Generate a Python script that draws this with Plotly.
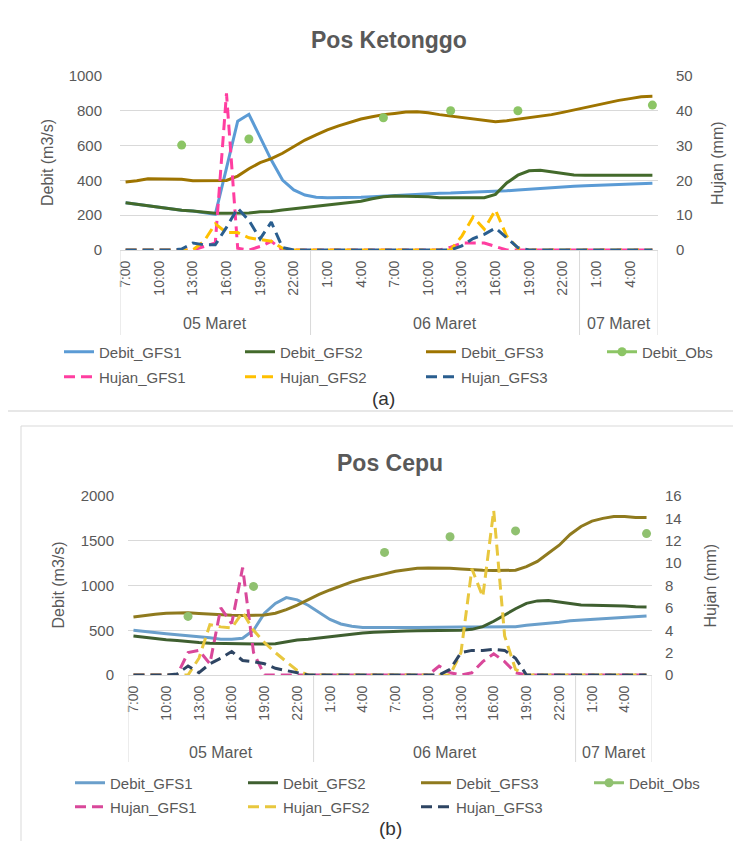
import plotly.graph_objects as go

# The page body has an 8px margin; figure is sized to fit the 741x841 window
OFF = 8
W, H = 741 - OFF, 841 - OFF


def px(x):
    return (x - OFF) / W


def py(y):
    return 1 - (y - OFF) / H


# ---------------- categories ----------------
HOURS = [
    "7:00", "8:00", "9:00", "10:00", "11:00", "12:00", "13:00", "14:00", "15:00",
    "16:00", "17:00", "18:00", "19:00", "20:00", "21:00", "22:00", "23:00",
    "0:00", "1:00", "2:00", "3:00", "4:00", "5:00", "6:00", "7:00", "8:00", "9:00",
    "10:00", "11:00", "12:00", "13:00", "14:00", "15:00", "16:00", "17:00", "18:00",
    "19:00", "20:00", "21:00", "22:00", "23:00",
    "0:00", "1:00", "2:00", "3:00", "4:00", "5:00", "6:00",
]
DAYS = ["05 Maret", "06 Maret", "07 Maret"]
DAY_SIZES = [17, 24, 7]
TICK_STEP = 3

# ---------------- Pos Ketonggo ----------------
KET_DEBIT_GFS1 = [272, 263, 255, 245, 234, 228, 224, 216, 205, 470, 740, 780, 651, 517, 402, 345, 316,
                  303, 301, 301, 301, 303, 306, 310, 312, 316, 320, 324, 326, 327, 329, 330, 333, 334, 340, 345, 350, 355, 358, 362, 366,
                  369, 372, 375, 377, 379, 382, 384]
KET_DEBIT_GFS2 = [272, 263, 255, 245, 234, 228, 224, 216, 211, 211, 211, 213, 220, 221, 230, 237, 242,
                  250, 255, 263, 270, 280, 295, 306, 310, 310, 310, 306, 301, 301, 301, 301, 301, 320, 385, 430, 455, 458, 450, 438, 431,
                  429, 429, 429, 430, 433, 429, 429]
KET_DEBIT_GFS3 = [391, 398, 410, 410, 410, 407, 398, 398, 398, 400, 425, 467, 502, 525, 556, 594, 632,
                  661, 690, 713, 732, 753, 766, 778, 785, 793, 795, 789, 778, 770, 762, 755, 747, 737, 743, 751, 759, 766, 778, 791, 805,
                  820, 835, 845, 860, 870, 881, 883]
KET_DEBIT_OBS = [None, None, None, None, None, 603, None, None, None, None, None, 638, None, None, None, None, None,
                 None, None, None, None, None, None, 760, None, None, None, None, None, 800, None, None, None, None, None, 800, None, None, None, None, None,
                 None, None, None, None, None, None, 833]
KET_HUJAN_GFS1 = [0, 0, 0, 0, 0, 0, 0, 1, 2, 45, 0.5, 0, 1, 2.5, 0, 0, 0,
                  0, 0, 0, 0, 0, 0, 0, 0, 0, 0, 0, 0, 0.8, 2, 2, 2, 1, 0, 0, 0, 0, 0, 0, 0,
                  0, 0, 0, 0, 0, 0, 0]
KET_HUJAN_GFS2 = [0, 0, 0, 0, 0, 0, 0, 2.5, 7.5, 5, 5, 3.5, 3, 2.5, 0.5, 0, 0,
                  0, 0, 0, 0, 0, 0, 0, 0, 0, 0, 0, 0, 0, 4, 9.5, 6, 11.5, 4, 0.5, 0, 0, 0, 0, 0,
                  0, 0, 0, 0, 0, 0, 0]
KET_HUJAN_GFS3 = [0, 0, 0, 0, 0, 0.3, 2, 1.5, 1.5, 6.5, 12, 8.5, 3.2, 8, 0.7, 0, 0,
                  0, 0, 0, 0, 0, 0, 0, 0, 0, 0, 0, 0, 0, 1.2, 3.3, 4.5, 6.3, 3.5, 0.7, 0, 0, 0, 0, 0,
                  0, 0, 0, 0, 0, 0, 0]

# ---------------- Pos Cepu ----------------
CEP_DEBIT_GFS1 = [500, 490, 475, 462, 450, 440, 430, 415, 400, 400, 410, 500, 690, 800, 865, 840, 780,
                  700, 620, 570, 545, 530, 528, 528, 528, 530, 532, 535, 537, 537, 537, 537, 537, 537, 537, 540, 555, 565, 578, 590, 605,
                  612, 620, 628, 635, 642, 650, 658]
CEP_DEBIT_GFS2 = [435, 420, 405, 395, 385, 372, 362, 355, 352, 350, 350, 348, 345, 348, 370, 390, 400,
                  415, 430, 442, 455, 468, 478, 485, 490, 493, 495, 495, 495, 495, 500, 510, 540, 600, 670, 740, 800, 828, 832, 818, 798,
                  782, 778, 778, 776, 770, 762, 760]
CEP_DEBIT_GFS3 = [648, 665, 680, 690, 695, 695, 688, 680, 672, 668, 665, 665, 670, 690, 730, 780, 840,
                  900, 950, 995, 1040, 1075, 1100, 1130, 1160, 1180, 1192, 1196, 1196, 1192, 1185, 1176, 1170, 1167, 1165, 1170, 1210, 1270, 1360, 1450, 1570,
                  1660, 1720, 1750, 1770, 1770, 1760, 1760]
CEP_DEBIT_OBS = [None, None, None, None, None, 655, None, None, None, None, None, 990, None, None, None, None, None,
                 None, None, None, None, None, None, 1370, None, None, None, None, None, 1545, None, None, None, None, None, 1610, None, None, None, None, None,
                 None, None, None, None, None, None, 1580]
CEP_HUJAN_GFS1 = [0, 0, 0, 0, 0, 2, 2.2, 1, 6, 4.6, 9.6, 2, 0, 0, 0, 0, 0,
                  0, 0, 0, 0, 0, 0, 0, 0, 0, 0, 0, 0.8, 0.2, 0, 0.2, 1.2, 1.9, 1.2, 0.2, 0, 0, 0, 0, 0,
                  0, 0, 0, 0, 0, 0, 0]
CEP_HUJAN_GFS2 = [0, 0, 0, 0, 0, 0, 1.5, 4.5, 4.3, 4.2, 5.6, 4, 2.9, 2, 1.2, 0.4, 0,
                  0, 0, 0, 0, 0, 0, 0, 0, 0, 0, 0, 0, 0, 2, 9.5, 7, 14.7, 3.5, 0.5, 0, 0, 0, 0, 0,
                  0, 0, 0, 0, 0, 0, 0]
CEP_HUJAN_GFS3 = [0, 0, 0, 0, 0.1, 0.8, 0.2, 1.0, 1.5, 2.1, 1.3, 1.2, 1.0, 0.6, 0.4, 0.2, 0,
                  0, 0, 0, 0, 0, 0, 0, 0, 0, 0, 0, 0, 0.5, 2, 2.2, 2.2, 2.3, 2.2, 1.5, 0, 0, 0, 0, 0,
                  0, 0, 0, 0, 0, 0, 0]

CHARTS = [
    dict(title="Pos Ketonggo", caption="(a)",
         debit=[("Debit_GFS1", KET_DEBIT_GFS1), ("Debit_GFS2", KET_DEBIT_GFS2),
                ("Debit_GFS3", KET_DEBIT_GFS3), ("Debit_Obs", KET_DEBIT_OBS)],
         hujan=[("Hujan_GFS1", KET_HUJAN_GFS1), ("Hujan_GFS2", KET_HUJAN_GFS2),
                ("Hujan_GFS3", KET_HUJAN_GFS3)],
         debit_range=[0, 1000], debit_dtick=200, hujan_range=[0, 50], hujan_dtick=10,
         colors=["#5B9BD5", "#436A2B", "#9E7400", "#8CC565", "#FF3EA0", "#FFC000", "#2A5E8F"],
         x0=120, x1=658, ytop=76, ybot=250, title_y=40, ytitle_l=47, ytitle_r=717,
         group_y=323, div_bot=335, leg1=352, leg2=377, leg_x=59, leg_w=136, cap_y=398, cap_x=383,
         so_l=17, so_r=17,
         xa="x", ya="y", ya2="y2", lg1="legend", lg2="legend2"),
    dict(title="Pos Cepu", caption="(b)",
         debit=[("Debit_GFS1", CEP_DEBIT_GFS1), ("Debit_GFS2", CEP_DEBIT_GFS2),
                ("Debit_GFS3", CEP_DEBIT_GFS3), ("Debit_Obs", CEP_DEBIT_OBS)],
         hujan=[("Hujan_GFS1", CEP_HUJAN_GFS1), ("Hujan_GFS2", CEP_HUJAN_GFS2),
                ("Hujan_GFS3", CEP_HUJAN_GFS3)],
         debit_range=[0, 2000], debit_dtick=500, hujan_range=[0, 16], hujan_dtick=2,
         colors=["#6A9FCB", "#3F5F30", "#8F7A1E", "#90C170", "#D9489A", "#E8C73E", "#2E4563"],
         x0=128, x1=652, ytop=496, ybot=675, title_y=463, ytitle_l=58, ytitle_r=710,
         group_y=752, div_bot=762, leg1=783, leg2=807, leg_x=70, leg_w=128, cap_y=828, cap_x=390,
         so_l=13, so_r=12,
         xa="x2", ya="y3", ya2="y4", lg1="legend3", lg2="legend4"),
]

FONT = "Liberation Sans, Arial, sans-serif"
GREY = "#595959"
GRID = "#d9d9d9"

fig = go.Figure()
layout = dict(width=W, height=H, margin=dict(l=0, r=0, t=0, b=0, pad=0, autoexpand=False),
              template="none",
              paper_bgcolor="white", plot_bgcolor="white",
              font=dict(family=FONT, size=14, color=GREY), showlegend=True)
annotations = []
shapes = []

n = len(HOURS)
xs = list(range(n))
tickvals = xs[::TICK_STEP]
ticktext = HOURS[::TICK_STEP]

bounds = [-0.5]
for s in DAY_SIZES:
    bounds.append(bounds[-1] + s)

for c in CHARTS:
    xa, ya, ya2 = c["xa"], c["ya"], c["ya2"]
    for i, (name, vals) in enumerate(c["debit"]):
        if name == "Debit_Obs":
            fig.add_trace(go.Scatter(x=xs, y=vals, name=name, mode="lines+markers",
                                     line=dict(color=c["colors"][i], width=3),
                                     marker=dict(color=c["colors"][i], size=9),
                                     connectgaps=False, xaxis=xa, yaxis=ya, legend=c["lg1"]))
        else:
            fig.add_trace(go.Scatter(x=xs, y=vals, name=name, mode="lines",
                                     line=dict(color=c["colors"][i], width=3),
                                     xaxis=xa, yaxis=ya, legend=c["lg1"]))
    for j, (name, vals) in enumerate(c["hujan"]):
        fig.add_trace(go.Scatter(x=xs, y=vals, name=name, mode="lines",
                                 line=dict(color=c["colors"][4 + j], width=3, dash="11px,6px"),
                                 xaxis=xa, yaxis=ya2, legend=c["lg2"]))

    xkey = "xaxis" if xa == "x" else "xaxis" + xa[1:]
    ykey = "yaxis" if ya == "y" else "yaxis" + ya[1:]
    y2key = "yaxis" + ya2[1:]
    layout[xkey] = dict(domain=[px(c["x0"]), px(c["x1"])], anchor=ya, range=[-0.5, n - 0.5],
                        tickmode="array", tickvals=tickvals, ticktext=ticktext, tickangle=-90,
                        showgrid=False, zeroline=False, showline=True, linecolor=GRID, linewidth=1,
                        ticks="", tickfont=dict(size=14, color=GREY), ticklabelstandoff=4,
                        automargin=False)
    layout[ykey] = dict(domain=[py(c["ybot"]), py(c["ytop"])], anchor=xa, range=c["debit_range"],
                        dtick=c["debit_dtick"], showgrid=True, gridcolor=GRID, gridwidth=1,
                        zeroline=False, showline=False, ticks="",
                        tickfont=dict(size=15, color=GREY), ticklabelstandoff=c["so_l"], automargin=False)
    layout[y2key] = dict(overlaying=ya, side="right", anchor=xa, range=c["hujan_range"],
                         dtick=c["hujan_dtick"], showgrid=False, zeroline=False, showline=False,
                         ticks="", tickfont=dict(size=15, color=GREY), ticklabelstandoff=c["so_r"],
                         automargin=False)

    # chart title
    annotations.append(dict(text="<b>%s</b>" % c["title"], x=px((c["x0"] + c["x1"]) / 2), y=py(c["title_y"]),
                            xref="paper", yref="paper", showarrow=False,
                            font=dict(size=23, color=GREY), xanchor="center", yanchor="middle"))
    ymid = (c["ytop"] + c["ybot"]) / 2
    annotations.append(dict(text="Debit (m3/s)", x=px(c["ytitle_l"]), y=py(ymid), xref="paper", yref="paper",
                            showarrow=False, textangle=-90, font=dict(size=16, color=GREY),
                            xanchor="center", yanchor="middle"))
    annotations.append(dict(text="Hujan (mm)", x=px(c["ytitle_r"]), y=py(ymid), xref="paper", yref="paper",
                            showarrow=False, textangle=-90, font=dict(size=16, color=GREY),
                            xanchor="center", yanchor="middle"))
    # day group labels and dividers
    for k, d in enumerate(DAYS):
        annotations.append(dict(text=d, x=(bounds[k] + bounds[k + 1]) / 2, y=py(c["group_y"]),
                                xref=xa, yref="paper", showarrow=False,
                                font=dict(size=16, color=GREY), xanchor="center", yanchor="middle"))
    for b in bounds:
        shapes.append(dict(type="line", xref=xa, yref="paper", x0=b, x1=b,
                           y0=py(c["ybot"]), y1=py(c["div_bot"]), line=dict(color=GRID, width=1)))
    # caption
    annotations.append(dict(text=c["caption"], x=px(c["cap_x"]), y=py(c["cap_y"]), xref="paper", yref="paper",
                            showarrow=False, font=dict(size=19, color="#333333"),
                            xanchor="center", yanchor="middle"))
    for key, yy in ((c["lg1"], c["leg1"]), (c["lg2"], c["leg2"])):
        layout[key] = dict(orientation="h", x=px(c["leg_x"]), xanchor="left", y=py(yy), yanchor="middle",
                           entrywidth=c["leg_w"], entrywidthmode="pixels", bgcolor="rgba(0,0,0,0)",
                           borderwidth=0,
                           font=dict(size=15, color=GREY), itemclick=False, itemdoubleclick=False,
                           traceorder="normal")

# frame lines
shapes.append(dict(type="line", xref="paper", yref="paper", x0=0, x1=1, y0=py(411), y1=py(411),
                   line=dict(color="#cfcfcf", width=1)))
shapes.append(dict(type="rect", xref="paper", yref="paper", x0=px(21), x1=px(735), y0=py(426), y1=py(845),
                   line=dict(color="#d9d9d9", width=1), fillcolor="rgba(0,0,0,0)"))

layout["annotations"] = annotations
layout["shapes"] = shapes
fig.update_layout(**layout)
fig.write_html("out.html")
